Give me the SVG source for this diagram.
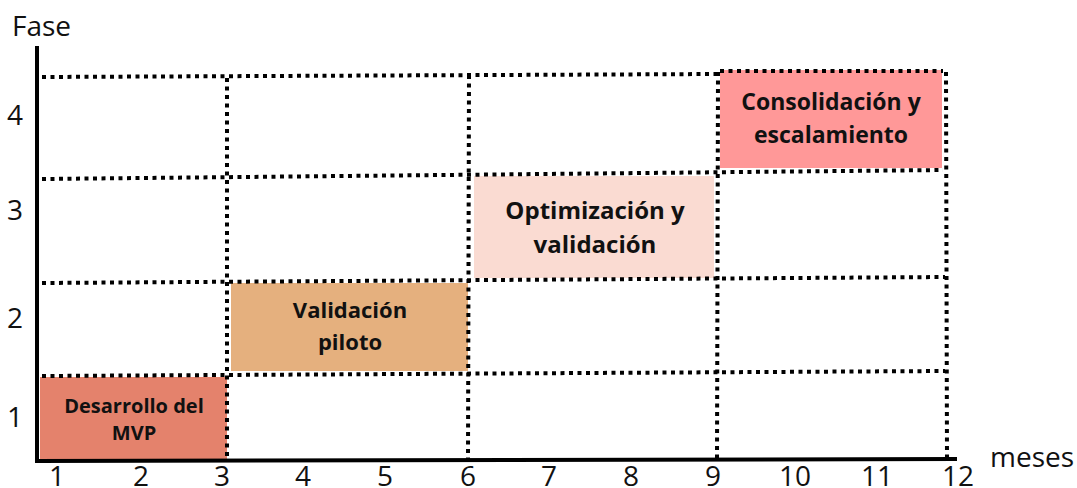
<svg xmlns="http://www.w3.org/2000/svg" width="1077" height="488" viewBox="0 0 1077 488">
<style>
.grid{fill:none;stroke:#000;stroke-width:4;stroke-dasharray:4 4.5}
.axis{fill:none;stroke:#000;stroke-width:4}
.lbl{font-family:"Open Sans","Noto Sans",sans-serif;font-size:28px;fill:#111}
.num{text-anchor:middle}
.bt{font-family:"Open Sans","Noto Sans",sans-serif;font-weight:bold;fill:#111;text-anchor:middle}
</style>
<rect width="1077" height="488" fill="#fff"/>
<g id="phase1"><rect x="40" y="377" width="187" height="84" fill="#E4826C"/></g>
<g id="phase2"><rect x="231" y="283" width="237" height="88" fill="#E5B07E"/></g>
<g id="phase3"><rect x="474" y="176" width="240" height="102" fill="#FADBD2"/></g>
<g id="phase4"><rect x="720" y="70" width="222" height="98" fill="#FF9898"/></g>
<g id="grid">
<path class="grid" d="M42,77 L720,74 M720,71 L943,71"/>
<path class="grid" d="M42,179 L943,170"/>
<path class="grid" d="M42,283 L945,277"/>
<path class="grid" d="M42,376 L945,371"/>
<path class="grid" d="M227,78 L227,462"/>
<path class="grid" d="M469,75 L468,460"/>
<path class="grid" d="M718,72 L717,459"/>
<path class="grid" d="M946,72 L947,460"/>
</g>
<g id="axes">
<path class="axis" d="M37,46 L37,462"/>
<path class="axis" d="M35,461 L957,459"/>
</g>
<g id="labels">
<text class="lbl" x="12" y="36">Fase</text>
<text class="lbl" x="990" y="467">meses</text>
<text class="lbl num" x="15" y="125">4</text>
<text class="lbl num" x="15" y="220">3</text>
<text class="lbl num" x="15" y="328">2</text>
<text class="lbl num" x="15" y="427">1</text>
<text class="lbl num" x="57" y="486">1</text>
<text class="lbl num" x="141" y="486">2</text>
<text class="lbl num" x="222" y="486">3</text>
<text class="lbl num" x="303" y="486">4</text>
<text class="lbl num" x="385" y="486">5</text>
<text class="lbl num" x="468" y="486">6</text>
<text class="lbl num" x="549" y="486">7</text>
<text class="lbl num" x="631" y="486">8</text>
<text class="lbl num" x="713" y="486">9</text>
<text class="lbl num" x="795" y="486">10</text>
<text class="lbl num" x="877" y="486">11</text>
<text class="lbl num" x="958" y="486">12</text>
</g>
<g id="phase1-text"><text class="bt" font-size="20" x="134" y="413">Desarrollo del</text><text class="bt" font-size="20" x="134" y="440">MVP</text></g>
<g id="phase2-text"><text class="bt" font-size="22" x="350" y="318">Validación</text><text class="bt" font-size="22" x="350" y="350">piloto</text></g>
<g id="phase3-text"><text class="bt" font-size="24" x="595" y="219">Optimización y</text><text class="bt" font-size="24" x="595" y="253">validación</text></g>
<g id="phase4-text"><text class="bt" font-size="23" x="831" y="110">Consolidación y</text><text class="bt" font-size="23" x="831" y="143">escalamiento</text></g>
</svg>
